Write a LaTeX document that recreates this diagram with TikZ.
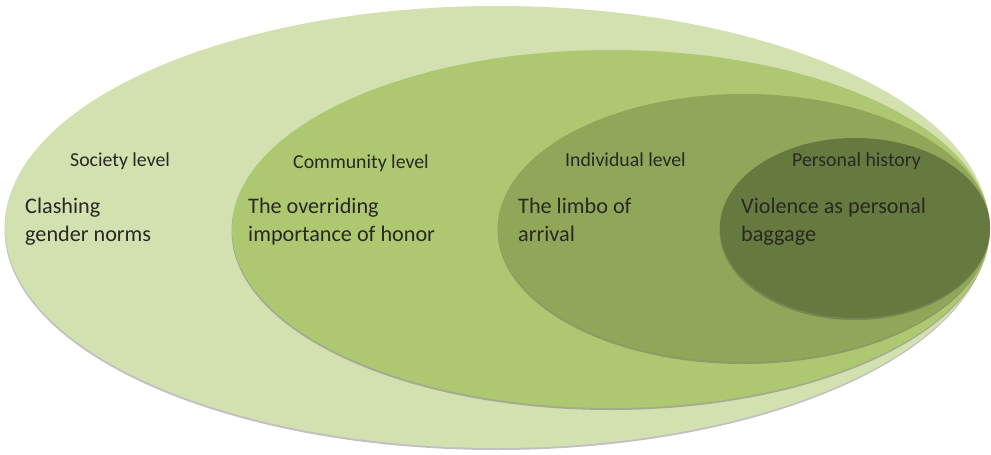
\documentclass[tikz,border=0pt]{standalone}
\usepackage{fontspec}
\setmainfont{Carlito}
\usetikzlibrary{shadows}
\definecolor{lvlA}{RGB}{211,224,176}
\definecolor{lvlB}{RGB}{174,200,114}
\definecolor{lvlC}{RGB}{144,166,89}
\definecolor{lvlD}{RGB}{102,121,62}
\definecolor{txt}{RGB}{40,40,36}
\tikzset{
  ring/.style={drop shadow={shadow xshift=-0.5pt, shadow yshift=-2pt, opacity=0.35, fill=black!70}},
  lvllabel/.style={text=txt, font=\fontsize{19.8}{23}\selectfont, anchor=base west, inner sep=0pt},
  lvltext/.style={text=txt, font=\fontsize{22.2}{27.5}\selectfont, anchor=base west, inner sep=0pt, align=left}
}
\begin{document}
\begin{tikzpicture}[x=1pt,y=-1pt]
\useasboundingbox (0,0) rectangle (991,455);
\fill[lvlA,ring] (497,227) ellipse [x radius=492, y radius=221];
\fill[lvlB,ring] (611,229) ellipse [x radius=379, y radius=179];
\fill[lvlC,ring] (744,228) ellipse [x radius=246, y radius=134];
\fill[lvlD,ring] (855,228) ellipse [x radius=135, y radius=90];
\node[lvllabel] (soc) at (70,166) {Society level};
\node[lvllabel] (com) at (293,168) {Community level};
\node[lvllabel] (ind) at (565,166) {Individual level};
\node[lvllabel] (per) at (792,166) {Personal history};
\node[lvltext] (soct) at (25,241) {Clashing\\gender norms};
\node[lvltext] (comt) at (248,241) {The overriding\\importance of honor};
\node[lvltext] (indt) at (518,241) {The limbo of\\arrival};
\node[lvltext] (pert) at (741,241) {Violence as personal\\baggage};
\end{tikzpicture}
\end{document}
